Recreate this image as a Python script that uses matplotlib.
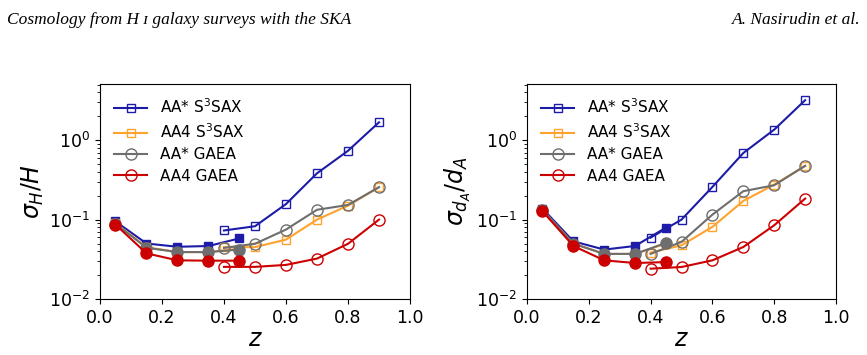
import numpy as np
import matplotlib
matplotlib.use("Agg")
import matplotlib.pyplot as plt

# redshift bins
z_lo = [0.05, 0.15, 0.25, 0.35, 0.45]
z_hi = [0.4, 0.5, 0.6, 0.7, 0.8, 0.9]

labels = ["AA* S$^3$SAX", "AA4 S$^3$SAX", "AA* GAEA", "AA4 GAEA"]
colors = ["#1c1ca8", "#ffa22e", "#6e6e6e", "#cc0000"]
markers = ["s", "s", "o", "o"]

# sigma_H / H  (low-z filled, high-z open)
H_lo = [
    [0.095, 0.050, 0.0455, 0.0465, 0.058],
    [0.090, 0.045, 0.039, 0.039, 0.043],
    [0.089, 0.0442, 0.039, 0.039, 0.042],
    [0.0866, 0.0376, 0.0307, 0.0304, 0.0304],
]
H_hi = [
    [0.073, 0.0825, 0.157, 0.383, 0.736, 1.68],
    [0.045, 0.045, 0.056, 0.100, 0.150, 0.256],
    [0.044, 0.0496, 0.075, 0.133, 0.153, 0.256],
    [0.0254, 0.0254, 0.0269, 0.0323, 0.0496, 0.100],
]

# sigma_dA / dA
D_lo = [
    [0.138, 0.0533, 0.0419, 0.0466, 0.0794],
    [0.132, 0.050, 0.037, 0.037, 0.050],
    [0.131, 0.0498, 0.037, 0.037, 0.051],
    [0.128, 0.0466, 0.0307, 0.0284, 0.0292],
]
D_hi = [
    [0.0593, 0.100, 0.258, 0.69, 1.36, 3.19],
    [0.0384, 0.0475, 0.081, 0.172, 0.276, 0.475],
    [0.037, 0.0524, 0.1156, 0.228, 0.271, 0.475],
    [0.0241, 0.0253, 0.0307, 0.0452, 0.0849, 0.184],
]

fig = plt.figure(figsize=(8.67, 3.55), dpi=100)
ax1 = fig.add_axes([0.1153, 0.1577, 0.3576, 0.6056])
ax2 = fig.add_axes([0.6078, 0.1577, 0.3565, 0.6056])


def panel(ax, lo, hi, ylab):
    for i in range(4):
        ms = 6 if markers[i] == "s" else 8
        ax.plot(z_lo, lo[i], color=colors[i], marker=markers[i], ms=ms,
                lw=1.5, zorder=2 + i)
        ax.plot(z_hi, hi[i], color=colors[i], marker=markers[i], ms=ms,
                mfc="none", lw=1.5, label=labels[i], zorder=2 + i)
    ax.set_yscale("log")
    ax.set_xlim(0, 1)
    ax.set_ylim(0.01, 5.1)
    ax.set_xticks([0.0, 0.2, 0.4, 0.6, 0.8, 1.0])
    ax.tick_params(labelsize=12.5)
    ax.set_xlabel("$z$", fontsize=17, labelpad=0)
    ax.set_ylabel(ylab, fontsize=17, labelpad=2)
    ax.legend(loc="upper left", frameon=False, fontsize=11,
              handlelength=2.2, labelspacing=0.4, borderaxespad=0.5)


panel(ax1, H_lo, H_hi, r"$\sigma_H/H$")
panel(ax2, D_lo, D_hi, r"$\sigma_{d_A}/d_A$")

fig.text(0.008, 0.965, "Cosmology from H \u026a galaxy surveys with the SKA",
         family=["Liberation Serif", "DejaVu Serif"], style="italic",
         fontsize=12.5, va="top", ha="left")
fig.text(0.993, 0.965, "A. Nasirudin et al.",
         family=["Liberation Serif", "DejaVu Serif"], style="italic",
         fontsize=12.5, va="top", ha="right")

fig.savefig("out.png", dpi=100)
